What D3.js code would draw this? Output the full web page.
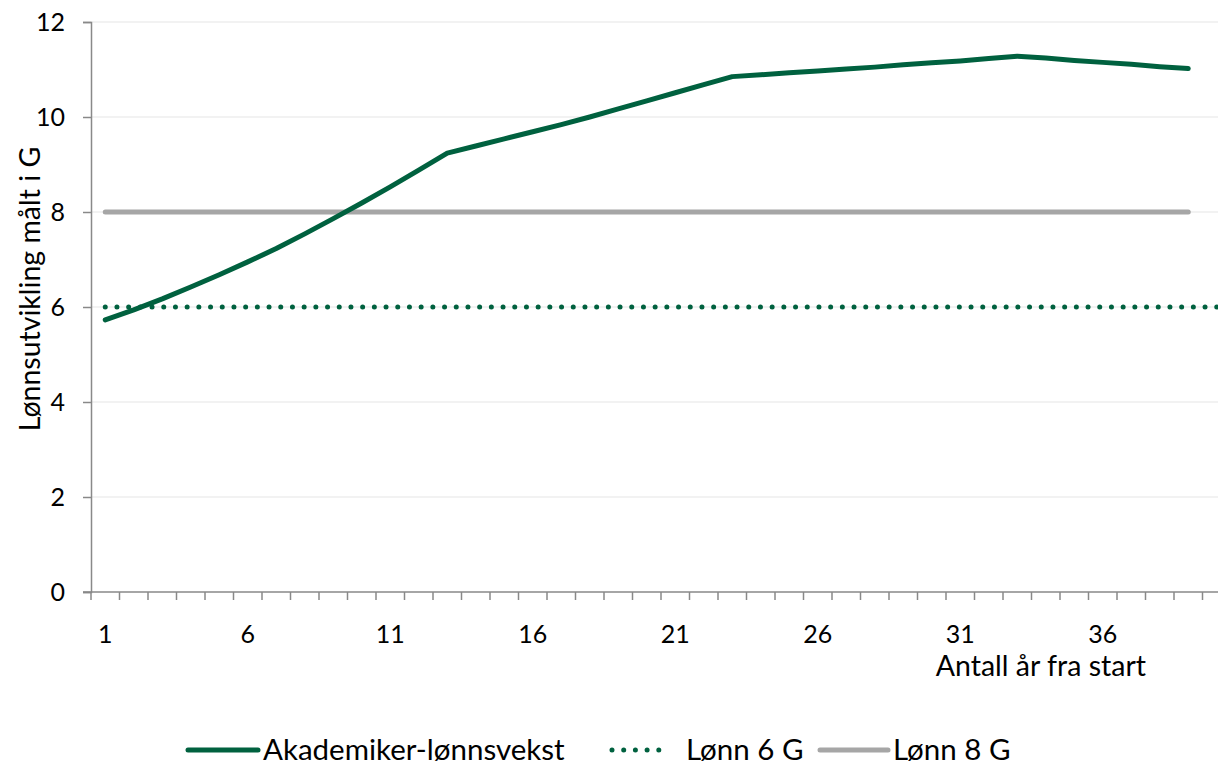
<!DOCTYPE html>
<html><head><meta charset="utf-8">
<script src="https://cdn.jsdelivr.net/npm/d3@7"></script>
<style>
body{margin:0;background:#fff;}
text{font-family:Lato,"Open Sans",sans-serif;fill:#000;}
</style></head>
<body><svg id="c" width="1218" height="765"></svg>
<script>
const years = d3.range(1, 41);
const akademiker = [5.73,5.94,6.17,6.42,6.68,6.95,7.23,7.54,7.86,8.19,8.53,8.88,9.24,
  9.39,9.54,9.69,9.84,10.0,10.17,10.34,10.51,10.68,10.85,
  10.89,10.93,10.97,11.01,11.05,11.1,11.14,11.18,11.23,11.28,
  11.24,11.19,11.15,11.11,11.06,11.02];
const lonn6 = years.map(() => 6);
const lonn8 = years.slice(0, 39).map(() => 8);
const yTicks = [0,2,4,6,8,10,12];
const xLabels = [1,6,11,16,21,26,31,36];
const seriesNames = ["Akademiker-lønnsvekst","Lønn 6 G","Lønn 8 G"];

const svg = d3.select("#c");
const mLeft = 91, mTop = 22, mBottom = 592, step = 28.5;
const x = d3.scaleBand().domain(years).range([mLeft, mLeft + step*years.length]).padding(0);
const cx = d => x(d) + x.bandwidth()/2;
const y = d3.scaleLinear().domain([0,12]).range([mBottom, mTop]);
const axisCol = "#898989";

// gridlines
svg.append("g").selectAll("line").data(yTicks.filter(d=>d>0)).join("line")
  .attr("x1", mLeft).attr("x2", 1218).attr("y1", d=>y(d)).attr("y2", d=>y(d))
  .attr("stroke", "#eeeeee").attr("stroke-width", 1.5);

// y axis
const ya = svg.append("g").attr("transform", `translate(${mLeft},0)`)
  .call(d3.axisLeft(y).tickValues(yTicks).tickSize(8).tickPadding(18));
ya.select(".domain").attr("stroke", axisCol).attr("stroke-width", 1.5);
ya.selectAll(".tick line").attr("stroke", axisCol).attr("stroke-width", 1.5);
ya.selectAll("text").attr("font-size", 25).attr("font-family","Lato,sans-serif").attr("fill","#000");

// x axis
const xa = svg.append("g").attr("transform", `translate(0,${mBottom})`);
xa.append("line").attr("x1", mLeft - 8).attr("x2", 1218).attr("stroke", axisCol).attr("stroke-width", 1.5);
const edges = years.map(d => x(d)).concat([x(years[years.length-1]) + x.bandwidth()]);
xa.selectAll("line.t").data(edges).join("line").attr("class","t")
  .attr("x1", d=>d).attr("x2", d=>d).attr("y1", 0).attr("y2", 8)
  .attr("stroke", axisCol).attr("stroke-width", 1.5);
xa.selectAll("text.l").data(xLabels).join("text").attr("class","l")
  .attr("x", d=>cx(d)).attr("y", 51).attr("text-anchor","middle").attr("font-size", 25).text(d=>d);

// axis titles
svg.append("text").attr("x", 1146).attr("y", 676).attr("text-anchor","end").attr("font-size", 28.5)
  .text("Antall år fra start");
svg.append("text").attr("transform", "translate(40,289) rotate(-90)").attr("text-anchor","middle")
  .attr("font-size", 28.5).text("Lønnsutvikling målt i G");

// lines
const green = "#00613f", grey = "#a6a6a6";
const line = d3.line().x((d,i)=>cx(years[i])).y(d=>y(d));
svg.append("path").datum(lonn8).attr("d", line).attr("fill","none")
  .attr("stroke", grey).attr("stroke-width", 5).attr("stroke-linecap","round");
svg.append("path").datum(lonn6).attr("d", line).attr("fill","none")
  .attr("stroke", green).attr("stroke-width", 5).attr("stroke-linecap","round")
  .attr("stroke-dasharray", "0 11.7");
svg.append("path").datum(akademiker).attr("d", line).attr("fill","none")
  .attr("stroke", green).attr("stroke-width", 5).attr("stroke-linecap","round").attr("stroke-linejoin","round");

// legend
const leg = [
  {name: seriesNames[0], x1:188, x2:258, tx:263, col:green, dash:null},
  {name: seriesNames[1], x1:612, x2:670, tx:686, col:green, dash:"0 11.7"},
  {name: seriesNames[2], x1:820, x2:888, tx:893, col:grey, dash:null}
];
const lg = svg.append("g");
leg.forEach(l => {
  lg.append("line").attr("x1", l.x1).attr("x2", l.x2).attr("y1", 750).attr("y2", 750)
    .attr("stroke", l.col).attr("stroke-width", 5).attr("stroke-linecap","round")
    .attr("stroke-dasharray", l.dash);
  lg.append("text").attr("x", l.tx).attr("y", 760).attr("font-size", 29.5).text(l.name);
});
</script></body></html>
